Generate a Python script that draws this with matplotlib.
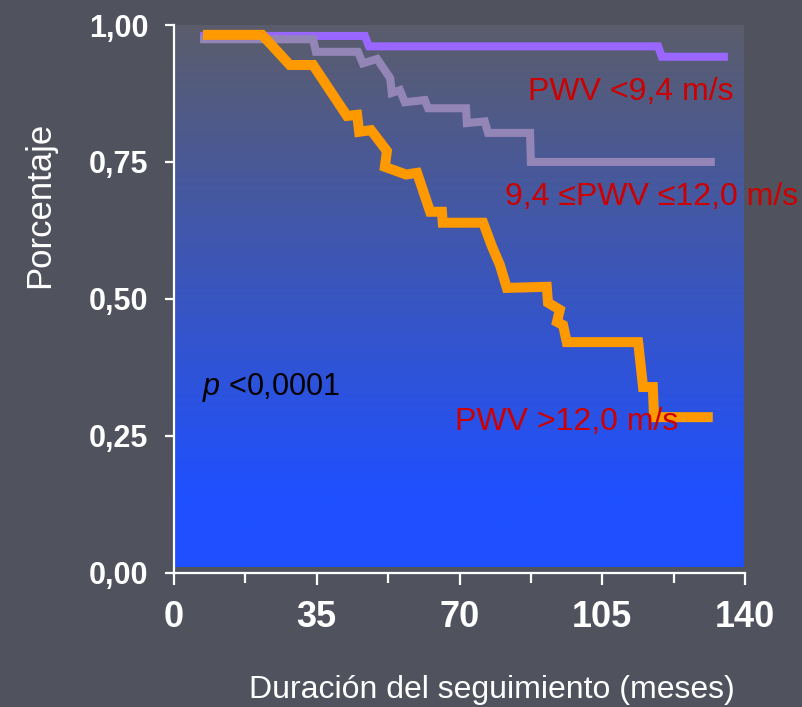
import numpy as np
import matplotlib
matplotlib.use("Agg")
import matplotlib.pyplot as plt
from matplotlib.ticker import FixedLocator, MultipleLocator

plt.rcParams['font.family'] = ['Liberation Sans', 'DejaVu Sans']
plt.rcParams['mathtext.fontset'] = 'custom'
plt.rcParams['mathtext.it'] = 'Liberation Sans:italic'
plt.rcParams['mathtext.rm'] = 'Liberation Sans'

# ---- data ----
t_low = [6.4, 46.8, 47.8, 118.7, 119.6, 135.8]
s_low = [0.980, 0.980, 0.961, 0.961, 0.942, 0.942]

t_mid = [6.4, 34.1, 34.8, 45.1, 46.3, 49.8, 53.0, 53.4, 55.4, 56.6, 61.5, 62.3,
         71.6, 71.8, 76.2, 77.0, 87.3, 87.5, 132.6]
s_mid = [0.974, 0.974, 0.951, 0.951, 0.930, 0.938, 0.903, 0.876, 0.881, 0.859,
         0.863, 0.848, 0.848, 0.821, 0.824, 0.803, 0.803, 0.750, 0.750]

t_high = [7.1, 21.6, 28.4, 34.1, 42.4, 44.9, 45.4, 48.3, 52.2, 51.7, 56.9, 59.6,
          62.8, 65.7, 65.9, 75.8, 78.0, 79.9, 81.6, 91.4, 91.7, 94.6, 93.9, 95.4,
          96.3, 113.8, 115.0, 117.4, 117.7, 132.1]
s_high = [0.982, 0.982, 0.927, 0.927, 0.834, 0.836, 0.805, 0.808, 0.770, 0.741,
          0.727, 0.730, 0.659, 0.659, 0.639, 0.639, 0.595, 0.562, 0.520, 0.522,
          0.493, 0.480, 0.458, 0.452, 0.421, 0.421, 0.339, 0.339, 0.284, 0.284]

x_ticks = [0, 35, 70, 105, 140]
y_ticks = [0.0, 0.25, 0.5, 0.75, 1.0]
y_ticklabels = ['0,00', '0,25', '0,50', '0,75', '1,00']
label_low = 'PWV <9,4 m/s'
label_mid = '9,4 ≤PWV ≤12,0 m/s'
label_high = 'PWV >12,0 m/s'
p_text = r'$p$ <0,0001'

# ---- figure ----
W, H = 802, 707
fig = plt.figure(figsize=(W / 100, H / 100), dpi=100)
fig.patch.set_facecolor('#50535e')

ax = fig.add_axes([174 / W, (H - 572.7) / H, 571 / W, 547.7 / H])
ax.set_facecolor('none')
ax.set_xlim(0, 140)
ax.set_ylim(0, 1)

# gradient panel
top = np.array([0x5b, 0x5d, 0x6b]) / 255
bot = np.array([0x1f, 0x50, 0xff]) / 255
n = 400
frac = np.linspace(1, 0, n)  # axes fraction from top to bottom
tt = np.clip((1 - frac) / 0.87, 0, 1)[:, None]
grad = top * (1 - tt) + bot * tt
ax.imshow(grad[:, None, :], extent=[0.002, 0.997, 0.0104, 1.0],
          transform=ax.transAxes, aspect='auto', zorder=0, interpolation='bilinear')

ax.plot(t_low, s_low, color='#9966ff', lw=5.8, solid_joinstyle='miter',
        solid_capstyle='butt', zorder=3)
ax.plot(t_mid, s_mid, color='#9485b7', lw=5.8, solid_joinstyle='miter',
        solid_capstyle='butt', zorder=4)
ax.plot(t_high, s_high, color='#ff9900', lw=7.2, solid_joinstyle='miter',
        solid_capstyle='butt', zorder=5)

red = '#cc0000'
ax.text(86.8, 0.863, label_low, color=red, fontsize=23, va='baseline', ha='left', zorder=6)
ax.text(81.1, 0.671, label_mid, color=red, fontsize=23, va='baseline', ha='left', zorder=6)
ax.text(68.9, 0.261, label_high, color=red, fontsize=23, va='baseline', ha='left', zorder=6)
ax.text(6.9, 0.324, p_text, color='black', fontsize=22, va='baseline', ha='left', zorder=6)

# axes styling
for s in ['top', 'right']:
    ax.spines[s].set_visible(False)
for s in ['left', 'bottom']:
    ax.spines[s].set_color('white')
    ax.spines[s].set_linewidth(1.6)

ax.xaxis.set_major_locator(FixedLocator(x_ticks))
ax.xaxis.set_minor_locator(MultipleLocator(17.5))
ax.set_yticks(y_ticks)
ax.set_yticklabels(y_ticklabels)
ax.tick_params(axis='x', which='major', direction='out', length=8.6, width=1.6,
               color='white', labelcolor='white', labelsize=26, pad=11)
ax.tick_params(axis='x', which='minor', direction='out', length=7.2, width=1.6,
               color='white')
ax.tick_params(axis='y', direction='out', length=6.5, width=1.6, color='white',
               labelcolor='white', labelsize=22, pad=12)
for lab in ax.get_xticklabels() + ax.get_yticklabels():
    lab.set_fontweight('bold')

fig.text(40 / W, 1 - 205 / H, 'Porcentaje', rotation=90, color='white',
         fontsize=25, ha='center', va='center')
fig.text(492 / W, 1 - 690 / H, 'Duración del seguimiento (meses)', color='white',
         fontsize=23, ha='center', va='center')

fig.savefig('out.png', dpi=100, facecolor=fig.get_facecolor())
